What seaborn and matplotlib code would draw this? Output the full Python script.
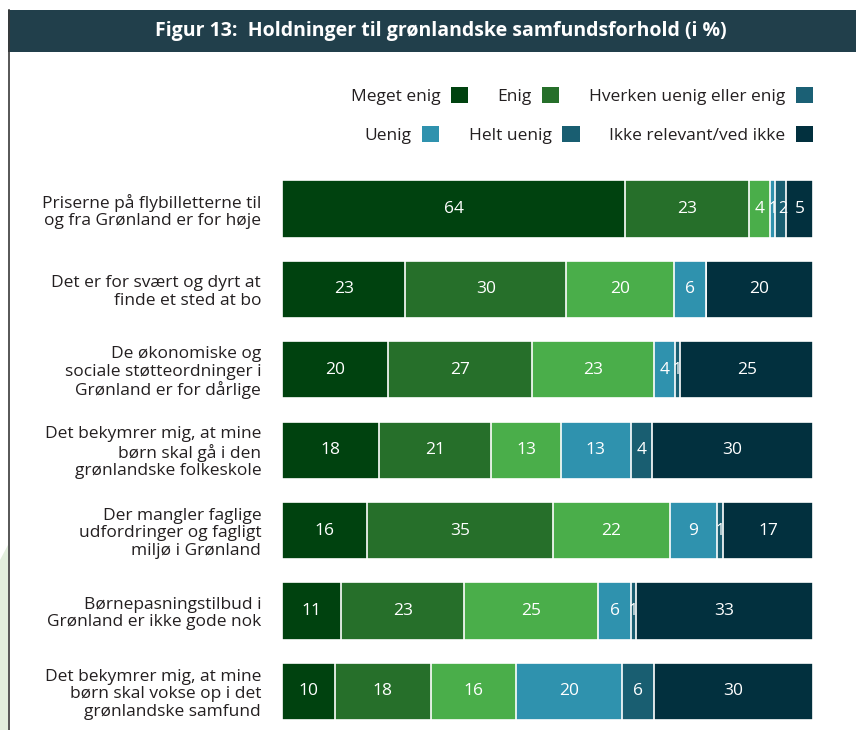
import numpy as np
import pandas as pd
import matplotlib
matplotlib.use("Agg")
import matplotlib.pyplot as plt
from matplotlib.patches import Rectangle, Patch, Polygon
import seaborn as sns

# ── DATA ──────────────────────────────────────────────────────────────────────
statements = [
    "Priserne på flybilletterne til\nog fra Grønland er for høje",
    "Det er for svært og dyrt at\nfinde et sted at bo",
    "De økonomiske og\nsociale støtteordninger i\nGrønland er for dårlige",
    "Det bekymrer mig, at mine\nbørn skal gå i den\ngrønlandske folkeskole",
    "Der mangler faglige\nudfordringer og fagligt\nmiljø i Grønland",
    "Børnepasningstilbud i\nGrønland er ikke gode nok",
    "Det bekymrer mig, at mine\nbørn skal vokse op i det\ngrønlandske samfund",
]
responses = ["Meget enig", "Enig", "Hverken uenig eller enig",
             "Uenig", "Helt uenig", "Ikke relevant/ved ikke"]

meget_enig = [64, 23, 20, 18, 16, 11, 10]
enig       = [23, 30, 27, 21, 35, 23, 18]
hverken    = [4, 20, 23, 13, 22, 25, 16]
uenig      = [1, 6, 4, 13, 9, 6, 20]
helt_uenig = [2, 0, 1, 4, 1, 1, 6]
ikke_rel   = [5, 20, 25, 30, 17, 33, 30]

bar_colors    = ["#00420f", "#266f2a", "#4aae4a", "#2f92ae", "#195e71", "#02303e"]
# the legend swatches in the original do not all match the bars
legend_colors = ["#00420f", "#266f2a", "#1b6075", "#2f92ae", "#195e71", "#02303e"]

# ── TABLE ─────────────────────────────────────────────────────────────────────
df = pd.DataFrame(
    np.array([meget_enig, enig, hverken, uenig, helt_uenig, ikke_rel]).T,
    index=statements, columns=responses)
shares = df.div(df.sum(axis=1), axis=0) * 100   # stretch each row to 100 %
cum = shares.cumsum(axis=1)

# ── PLOT ──────────────────────────────────────────────────────────────────────
plt.rcParams["font.family"] = ["Open Sans", "DejaVu Sans"]
fig = plt.figure(figsize=(8.56, 7.30), dpi=100)

W, H = 856, 730
ax = fig.add_axes([282 / W, 0, (813 - 282) / W, 1 - 170 / H])

# stacked bars: draw cumulative totals from the outside in
for i in range(len(responses) - 1, -1, -1):
    sns.barplot(x=cum.iloc[:, i].values, y=statements, orient="h",
                color=bar_colors[i], saturation=1, width=0.71,
                edgecolor="white", linewidth=1.2, ax=ax)

# value labels; a tiny segment right after another tiny one gets nudged right
for r, stmt in enumerate(statements):
    row = shares.loc[stmt].values
    for i, resp in enumerate(responses):
        val = df.loc[stmt, resp]
        if val == 0:
            continue
        xc = cum.loc[stmt, resp] - row[i] / 2
        small = row[i] < 3
        if small and i > 0 and 0 < row[i - 1] < 3:
            xc += 0.35
        ax.text(xc, r, f"{val}", ha="center", va="center", color="white",
                fontsize=11.5 if small else 12.5)

ax.set_xlim(0, 100)
ax.set_ylim(6.48, -0.485)
ax.set_xlabel("")
ax.set_ylabel("")
ax.set_xticks([])
ax.tick_params(axis="y", length=0, pad=15, labelsize=12.5, labelcolor="#231f20")
for lbl in ax.get_yticklabels():
    lbl.set_linespacing(1.12)
for s in ax.spines.values():
    s.set_visible(False)
ax.patch.set_alpha(0)

# ── FRAME + TITLE BAR ─────────────────────────────────────────────────────────
fig.patches.append(Polygon([(0, 1 - 560 / H), (8 / W, 1 - 545 / H), (8 / W, 0), (0, 0)],
                           closed=True, transform=fig.transFigure,
                           facecolor="#e2eedd", edgecolor="none", zorder=0))
fig.add_artist(plt.Line2D([8.5 / W, 8.5 / W], [0, 1 - 10 / H],
                          transform=fig.transFigure, color="#3a3a3a", linewidth=1.2))
fig.patches.append(Rectangle((8 / W, 1 - 52 / H), 1 - 8 / W, 42 / H,
                             transform=fig.transFigure, facecolor="#213f4b",
                             edgecolor="none", zorder=1))
fig.text(0.515, 1 - 31 / H, "Figur 13:  Holdninger til grønlandske samfundsforhold (i %)",
         ha="center", va="center", color="white", fontsize=14, fontweight="bold",
         family=["Liberation Sans Narrow", "Open Sans", "DejaVu Sans"], zorder=2)

# ── LEGEND (two right-aligned rows) ───────────────────────────────────────────
handles = [Patch(facecolor=c, edgecolor="none") for c in legend_colors]
common = dict(loc="center right", ncol=3, frameon=False, markerfirst=False,
              fontsize=12.5, handlelength=1.0, handleheight=1.0,
              handletextpad=0.6, columnspacing=1.7, borderaxespad=0,
              borderpad=0, labelcolor="#231f20")
leg1 = fig.legend(handles[:3], responses[:3],
                  bbox_to_anchor=(813 / W, 1 - 96 / H), **common)
leg2 = fig.legend(handles[3:], responses[3:],
                  bbox_to_anchor=(813 / W, 1 - 135 / H), **common)

fig.savefig("out.png", dpi=100)
